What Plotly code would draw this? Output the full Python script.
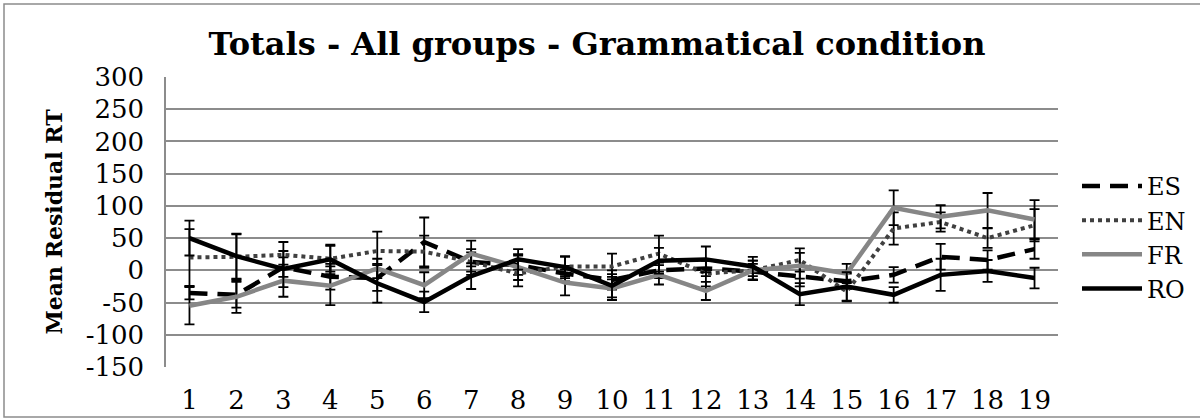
import plotly.graph_objects as go

categories = list(range(1, 20))

y_tick_values = [300, 250, 200, 150, 100, 50, 0, -50, -100, -150]
y_tick_labels = ["300", "250", "200", "150", "100", "50", "0", "-50", "-100", "-150"]

es_values = [-35, -38, 5, -10, -12, 44, 13, 8, -5, -15, 0, 3, -2, -10, -17, -7, 21, 16, 33]
es_errors = [10, 20, 15, 20, 20, 38, 15, 15, 12, 15, 12, 12, 12, 15, 12, 12, 20, 15, 15]

en_values = [20, 21, 24, 18, 30, 29, 13, -5, 6, 6, 26, -5, 0, 16, -33, 65, 75, 50, 70]
en_errors = [44, 35, 20, 20, 30, 25, 20, 20, 15, 20, 28, 20, 15, 18, 15, 25, 15, 15, 25]

fr_values = [-55, -41, -16, -24, 3, -23, 26, 5, -19, -28, -7, -32, 0, 7, -5, 97, 83, 93, 79]
fr_errors = [29, 25, 25, 30, 15, 20, 20, 20, 20, 18, 15, 14, 15, 20, 15, 27, 18, 27, 30]

ro_values = [50, 22, 2, 17, -20, -49, -9, 17, 5, -24, 15, 17, 6, -37, -25, -38, -7, -1, -12]
ro_errors = [27, 35, 28, 23, 30, 16, 20, 16, 17, 18, 20, 20, 15, 17, 22, 12, 25, 17, 16]

series = [
    ("ES", es_values, es_errors, dict(color="black", width=4.5, dash="18px,10px")),
    ("EN", en_values, en_errors, dict(color="#404040", width=4, dash="dot")),
    ("FR", fr_values, fr_errors, dict(color="#868686", width=4.5)),
    ("RO", ro_values, ro_errors, dict(color="black", width=4.5)),
]

FONT = "DejaVu Serif"

fig = go.Figure()
for name, vals, errs, line in series:
    fig.add_trace(go.Scatter(
        x=categories, y=vals, name=name, mode="lines", line=line,
        error_y=dict(type="data", array=errs, visible=True, color="black",
                     thickness=1.8, width=5),
    ))

W, H = 1200, 419
ml, mr, mt, mb = 166, 142, 77, 52
pw, ph = W - ml - mr, H - mt - mb

fig.update_layout(
    width=W, height=H,
    margin=dict(l=ml, r=mr, t=mt, b=mb, autoexpand=False),
    paper_bgcolor="white", plot_bgcolor="white",
    font=dict(family=FONT, color="black", size=26),
    title=dict(text="<b>Totals - All groups - Grammatical condition</b>",
               font=dict(family=FONT, size=32, color="black"),
               x=597 / W, xanchor="center", y=1 - 44 / H, yanchor="middle"),
    xaxis=dict(range=[0.5, 19.5], tickmode="array", tickvals=categories,
               ticktext=[str(c) for c in categories], showgrid=False,
               zeroline=False, showline=False, ticks="", automargin=False,
               tickfont=dict(family=FONT, size=26), ticklabelstandoff=15),
    yaxis=dict(range=[-150, 300], tickmode="array", tickvals=y_tick_values,
               ticktext=y_tick_labels, showgrid=True, gridcolor="#8c8c8c",
               gridwidth=1.5, zeroline=False, showline=True, linecolor="#8c8c8c",
               linewidth=1.5, ticks="", tickfont=dict(family=FONT, size=26),
               ticklabelstandoff=15, automargin=False,
               title=dict(text="<b>Mean Residual RT</b>",
                          font=dict(family=FONT, size=22), standoff=17)),
    legend=dict(x=(1077 - ml) / pw, xanchor="left", y=0.447, yanchor="middle",
                font=dict(family=FONT, size=24), tracegroupgap=0,
                itemwidth=60, bgcolor="rgba(0,0,0,0)"),
    showlegend=True,
)

fig.add_shape(type="rect", xref="paper", yref="paper",
              x0=(4 - ml) / pw, x1=(1210 - ml) / pw,
              y0=(H - mb - 417) / ph, y1=(H - mb - 4) / ph,
              line=dict(color="#8c8c8c", width=1.5), fillcolor="rgba(0,0,0,0)",
              layer="below")

fig.write_html("out.html", config={"displayModeBar": False},
               post_script="document.body.style.margin='0';")
